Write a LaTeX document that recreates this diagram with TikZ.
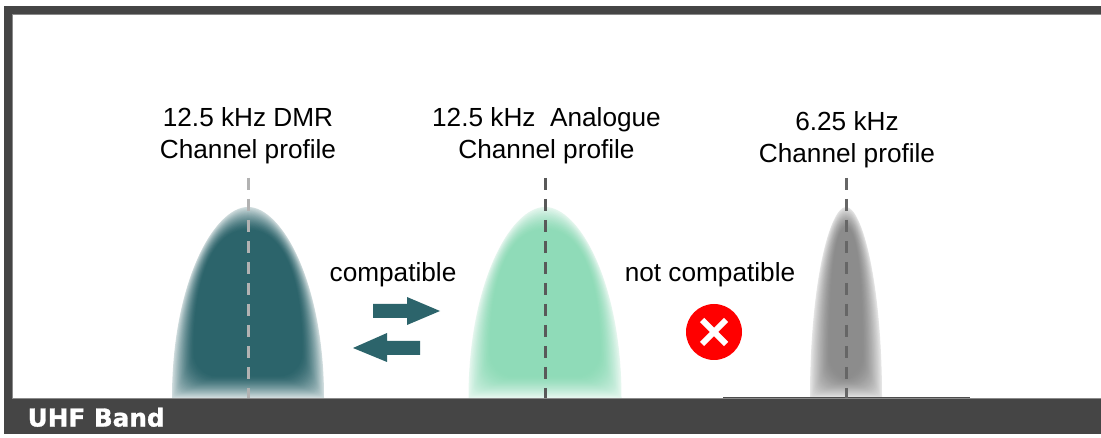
\documentclass[tikz,border=0pt]{standalone}
\usepackage{fontspec}
\setmainfont{Liberation Sans}
\newfontfamily\bandfont[BoldFeatures={FakeBold=1.2}]{DejaVu Sans}
\definecolor{frameC}{HTML}{454545}
\definecolor{edgeC}{HTML}{8A8A8A}
\definecolor{tealC}{HTML}{2C646B}
\definecolor{greenC}{HTML}{8FDBB8}
\definecolor{greyC}{HTML}{8C8C8C}
\newcommand{\bellshape}[6]{% cx, top, half width, inset, edge percent, colour
  \foreach \i in {0,...,31}{
    \pgfmathsetmacro{\tp}{\i/31}
    \pgfmathsetmacro{\dd}{#4*\tp}
    \pgfmathsetmacro{\pp}{#5+(100-#5)*(1-(1-\tp)^1.4)}
    \pgfmathsetmacro{\ww}{#3-\dd}
    \pgfmathsetmacro{\tt}{#2+\dd*1.05}
    \pgfmathsetmacro{\bb}{398-\dd}
    \pgfmathsetmacro{\cw}{\ww*(0.45+0.17*\tp)}
    \pgfmathsetmacro{\cy}{\bb-(\bb-\tt)*(0.60+0.10*\tp)}
    \pgfmathsetmacro{\rr}{\dd*1.1}
    \pgfmathsetmacro{\rk}{\rr*0.45}
    \fill[#6!\pp!white]
      (#1-\ww+\rr,\bb) .. controls (#1-\ww+\rk,\bb) and (#1-\ww,\bb-\rk) .. (#1-\ww,\bb-\rr)
      .. controls (#1-\ww,\cy) and (#1-\cw,\tt) .. (#1,\tt)
      .. controls (#1+\cw,\tt) and (#1+\ww,\cy) .. (#1+\ww,\bb-\rr)
      .. controls (#1+\ww,\bb-\rk) and (#1+\ww-\rk,\bb) .. (#1+\ww-\rr,\bb) -- cycle;
  }
}
\tikzset{
  lbl/.style={font=\fontsize{26.2}{32}\selectfont, text=black, align=center, inner sep=0pt},
  lightdash/.style={line width=3pt, dash pattern=on 12pt off 9pt, draw=#1},
  flow/.style={fill=tealC, draw=none},
}
\begin{document}
\begin{tikzpicture}[x=1pt,y=-1pt]
\useasboundingbox (0,0) rectangle (1101,438);
\fill[white] (0,0) rectangle (1101,438);
% frame
\fill[frameC] (4,6) rectangle (1101,14);
\fill[frameC] (4,6) rectangle (12,434);
\draw[edgeC, line width=0.8pt] (12,398) -- (12,14.4) -- (1101,14.4);
% bells
\bellshape{248}{207}{76}{22}{22}{tealC}
\bellshape{545}{207}{76.5}{22}{22}{greenC}
\bellshape{846}{207}{36}{20}{22}{greyC}
% bar
\fill[frameC] (4,398) rectangle (1101,434);
\draw[edgeC, line width=0.8pt] (12,398) -- (1101,398);
\coordinate (lineL) at (723,397.8);
\coordinate (lineR) at (970,397.8);
\draw[black!70, line width=1.4pt] (lineL) -- (lineR);
% dashed centre lines
\coordinate (d1t) at (248,178); \coordinate (d1b) at (248,398);
\coordinate (d2t) at (545,178); \coordinate (d2b) at (545,398);
\coordinate (d3t) at (846,178); \coordinate (d3b) at (846,398);
\draw[lightdash=black!30] (d1t) -- (d1b);
\draw[lightdash=black!65] (d2t) -- (d2b);
\draw[lightdash=black!60] (d3t) -- (d3b);
% labels
\node[lbl] (l1) at (248,136) {12.5 kHz DMR\\Channel profile};
\node[lbl] (l2) at (546.5,136) {12.5 kHz\ \ Analogue\\Channel profile};
\node[lbl] (l3) at (847,140) {6.25 kHz\\Channel profile};
\node[lbl] (c1) at (393,275) {compatible};
\node[lbl] (c2) at (710,275) {not compatible};
\node[font=\bandfont\bfseries\fontsize{24.7}{26}\selectfont, text=white, inner sep=0pt, anchor=base west] (band) at (27.5,426.5) {UHF Band};
% arrows
\fill[flow] (373,304) -- (407,304) -- (407,297) -- (440,311) -- (407,325) -- (407,318) -- (373,318) -- cycle;
\fill[flow] (420,341) -- (387,341) -- (387,333) -- (353,348) -- (387,362) -- (387,355) -- (420,355) -- cycle;
% no sign
\node[circle, fill=red, minimum size=56pt, inner sep=0pt] (no) at (714,332) {};
\draw[white, line width=6pt] (no.center) ++(-12,-12) -- ++(24,24);
\draw[white, line width=6pt] (no.center) ++(12,-12) -- ++(-24,24);
\end{tikzpicture}
\end{document}
